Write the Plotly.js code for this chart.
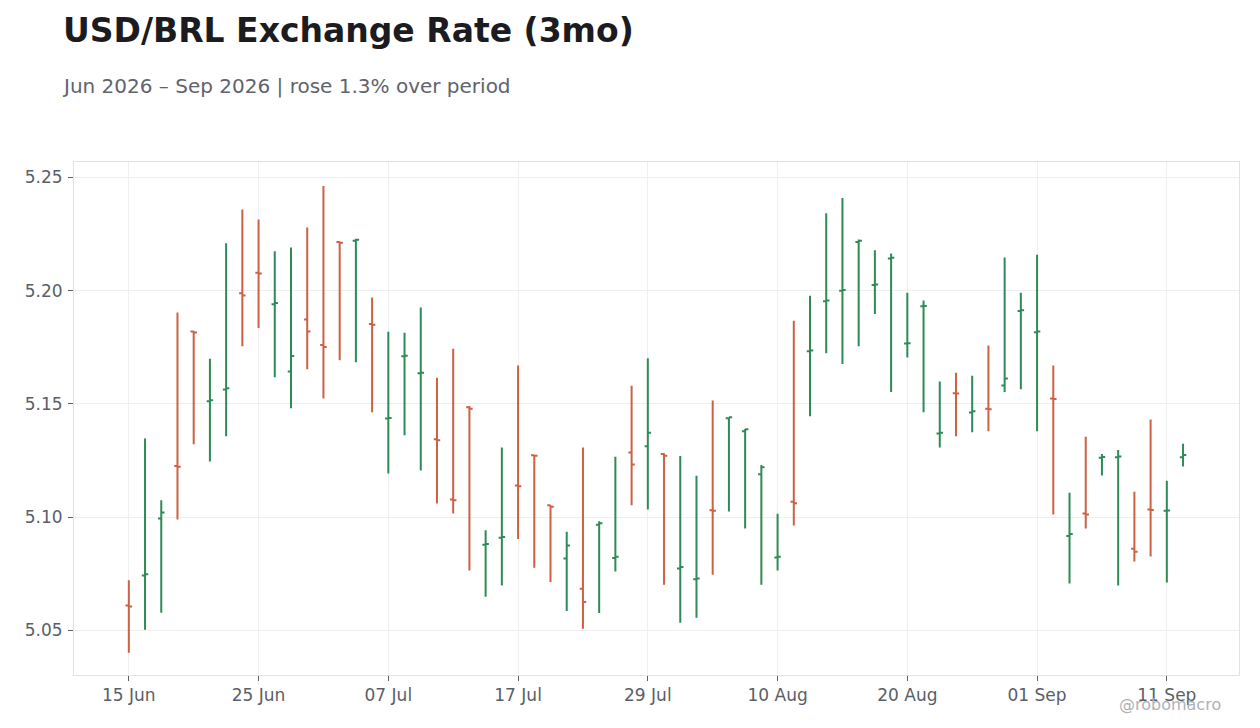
<!DOCTYPE html>
<html>
<head>
<meta charset="utf-8">
<script src="https://cdn.plot.ly/plotly-3.0.1.min.js"></script>
<style>html,body{margin:0;padding:0;background:#fff;}#chart{width:1260px;height:728px;}</style>
</head>
<body>
<div id="chart"></div>
<script>
const dates = [
 '2026-06-15','2026-06-16','2026-06-17','2026-06-18','2026-06-19',
 '2026-06-22','2026-06-23','2026-06-24','2026-06-25','2026-06-26',
 '2026-06-29','2026-06-30','2026-07-01','2026-07-02','2026-07-03',
 '2026-07-06','2026-07-07','2026-07-08','2026-07-09','2026-07-10',
 '2026-07-13','2026-07-14','2026-07-15','2026-07-16','2026-07-17',
 '2026-07-20','2026-07-21','2026-07-22','2026-07-23','2026-07-24',
 '2026-07-27','2026-07-28','2026-07-29','2026-07-30','2026-07-31',
 '2026-08-03','2026-08-04','2026-08-05','2026-08-06','2026-08-07',
 '2026-08-10','2026-08-11','2026-08-12','2026-08-13','2026-08-14',
 '2026-08-17','2026-08-18','2026-08-19','2026-08-20','2026-08-21',
 '2026-08-24','2026-08-25','2026-08-26','2026-08-27','2026-08-28',
 '2026-08-31','2026-09-01','2026-09-02','2026-09-03','2026-09-04',
 '2026-09-07','2026-09-08','2026-09-09','2026-09-10','2026-09-11',
 '2026-09-14'
];
const openVals = [
 5.0610,5.0742,5.0994,5.1226,5.1820,5.1512,5.1563,5.1988,5.2079,5.1940,
 5.1643,5.1873,5.1760,5.2215,5.2220,5.1853,5.1435,5.1710,5.1635,5.1344,
 5.1078,5.1485,5.0878,5.0909,5.1140,5.1273,5.1052,5.0817,5.0684,5.0966,
 5.0820,5.1285,5.1313,5.1279,5.0773,5.0726,5.1030,5.1437,5.1379,5.1189,
 5.0822,5.1068,5.1732,5.1953,5.1999,5.2215,5.2025,5.2142,5.1767,5.1931,
 5.1369,5.1547,5.1462,5.1479,5.1581,5.1910,5.1816,5.1524,5.0917,5.1016,
 5.1262,5.1264,5.0860,5.1034,5.1028,5.1264
];
const highVals = [
 5.0721,5.1347,5.1075,5.1903,5.1822,5.1699,5.2209,5.2358,5.2314,5.2174,
 5.2190,5.2279,5.2462,5.2217,5.2229,5.1970,5.1819,5.1814,5.1926,5.1615,
 5.1743,5.1491,5.0942,5.1307,5.1670,5.1274,5.1053,5.0935,5.1307,5.0982,
 5.1267,5.1580,5.1701,5.1282,5.1270,5.1183,5.1515,5.1441,5.1389,5.1230,
 5.1015,5.1867,5.1978,5.2342,5.2409,5.2226,5.2178,5.2164,5.1991,5.1956,
 5.1599,5.1637,5.1624,5.1758,5.2146,5.1991,5.2159,5.1670,5.1108,5.1355,
 5.1279,5.1296,5.1112,5.1431,5.1161,5.1324
];
const lowVals = [
 5.0401,5.0503,5.0578,5.0990,5.1322,5.1246,5.1357,5.1755,5.1835,5.1618,
 5.1481,5.1653,5.1524,5.1693,5.1684,5.1463,5.1193,5.1361,5.1206,5.1060,
 5.1016,5.0764,5.0649,5.0698,5.0904,5.0777,5.0714,5.0586,5.0507,5.0577,
 5.0760,5.1052,5.1034,5.0702,5.0534,5.0556,5.0746,5.1025,5.0950,5.0702,
 5.0764,5.0963,5.1445,5.1724,5.1676,5.1755,5.1897,5.1552,5.1705,5.1463,
 5.1308,5.1357,5.1375,5.1379,5.1552,5.1565,5.1379,5.1012,5.0707,5.0950,
 5.1184,5.0698,5.0804,5.0826,5.0711,5.1224
];
const closeVals = [
 5.0605,5.0748,5.1021,5.1222,5.1815,5.1516,5.1569,5.1979,5.2076,5.1945,
 5.1711,5.1820,5.1751,5.2211,5.2225,5.1849,5.1438,5.1713,5.1638,5.1340,
 5.1075,5.1479,5.0881,5.0912,5.1136,5.1271,5.1046,5.0875,5.0625,5.0973,
 5.0825,5.1232,5.1373,5.1271,5.0780,5.0729,5.1028,5.1441,5.1388,5.1220,
 5.0825,5.1061,5.1736,5.1957,5.2003,5.2220,5.2027,5.2145,5.1768,5.1932,
 5.1373,5.1546,5.1467,5.1476,5.1612,5.1913,5.1820,5.1522,5.0926,5.1012,
 5.1265,5.1268,5.0847,5.1031,5.1029,5.1274
];
const xTickVals = ['2026-06-15','2026-06-25','2026-07-07','2026-07-17','2026-07-29','2026-08-10','2026-08-20','2026-09-01','2026-09-11'];
const xTickText = ['15 Jun','25 Jun','07 Jul','17 Jul','29 Jul','10 Aug','20 Aug','01 Sep','11 Sep'];
const yTickVals = [5.05, 5.10, 5.15, 5.20, 5.25];
const yTickText = ['5.05','5.10','5.15','5.20','5.25'];

const FONT = 'DejaVu Sans, sans-serif';
const trace = {
  type: 'ohlc',
  x: dates, open: openVals, high: highVals, low: lowVals, close: closeVals,
  increasing: {line: {color: '#2e8b57', width: 2}},
  decreasing: {line: {color: '#cc6144', width: 2}},
  tickwidth: 0.2,
  showlegend: false,
  hoverinfo: 'x+y'
};
const layout = {
  width: 1260, height: 728,
  paper_bgcolor: '#ffffff', plot_bgcolor: '#ffffff',
  margin: {l: 74, r: 21, t: 162, b: 53},
  font: {family: FONT, color: '#5a5e69', size: 17},
  title: {
    text: '<b>USD/BRL Exchange Rate (3mo)</b>',
    font: {family: FONT, size: 33, color: '#1b1b20'},
    xref: 'container', x: 63/1260, xanchor: 'left',
    yref: 'container', y: 1 - 30/728, yanchor: 'middle'
  },
  xaxis: {
    type: 'date',
    rangebreaks: [{bounds: ['sat', 'mon']}],
    range: ['2026-06-09 14:53', '2026-09-17 10:48'],
    rangeslider: {visible: false},
    tickmode: 'array', tickvals: xTickVals, ticktext: xTickText,
    ticks: 'outside', ticklen: 5, tickcolor: '#5a5e69',
    showgrid: true, gridcolor: '#efefef', gridwidth: 1,
    showline: true, linecolor: '#e2e2e2', linewidth: 1, mirror: true,
    zeroline: false,
    tickfont: {family: FONT, size: 17, color: '#5a5e69'}
  },
  yaxis: {
    range: [5.0303, 5.2568],
    tickmode: 'array', tickvals: yTickVals, ticktext: yTickText,
    ticks: 'outside', ticklen: 5, tickcolor: '#5a5e69',
    ticklabelstandoff: 2,
    showgrid: true, gridcolor: '#efefef', gridwidth: 1,
    showline: true, linecolor: '#e2e2e2', linewidth: 1, mirror: true,
    zeroline: false,
    tickfont: {family: FONT, size: 17, color: '#5a5e69'}
  },
  annotations: [
    {
      text: 'Jun 2026 – Sep 2026 | rose 1.3% over period',
      xref: 'paper', yref: 'paper', x: (60-74)/1165, y: (675-86)/513,
      xanchor: 'left', yanchor: 'middle', showarrow: false,
      font: {family: FONT, size: 20, color: '#60636d'}
    },
    {
      text: '@robomacro',
      xref: 'paper', yref: 'paper', x: (1223-74)/1165, y: (675-705)/513,
      xanchor: 'right', yanchor: 'middle', showarrow: false,
      font: {family: FONT, size: 16, color: '#b0b1b6'}
    }
  ]
};
Plotly.newPlot('chart', [trace], layout, {displayModeBar: false, staticPlot: true});
</script>
</body>
</html>
